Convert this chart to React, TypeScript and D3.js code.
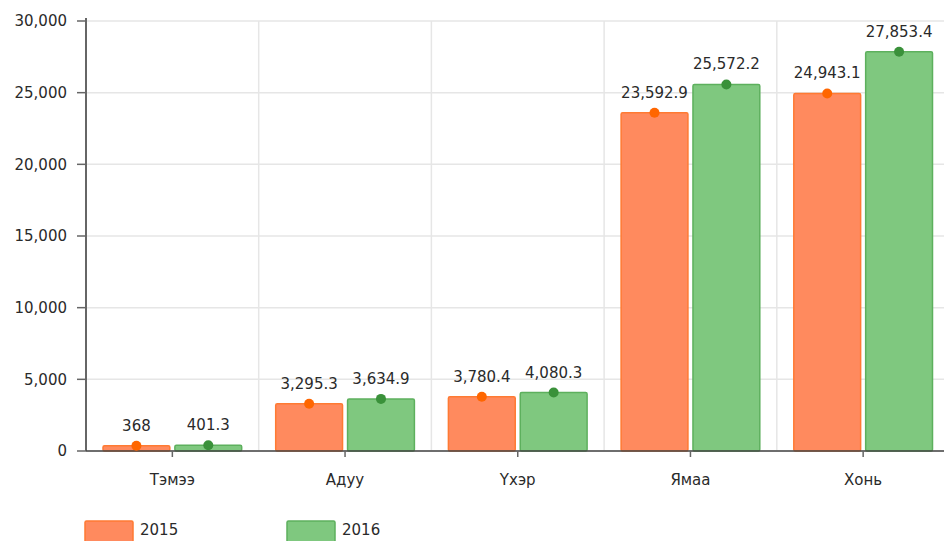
import React from "react";
import * as d3 from "d3";

const categories = ["Тэмээ", "Адуу", "Үхэр", "Ямаа", "Хонь"];
const series = ["2015", "2016"];
const values2015 = [368, 3295.3, 3780.4, 23592.9, 24943.1];
const values2016 = [401.3, 3634.9, 4080.3, 25572.2, 27853.4];
const yTicks = [0, 5000, 10000, 15000, 20000, 25000, 30000];

const W = 944;
const H = 541;
const left = 86;
const top = 21;
const bottom = 451;
const bandW = 172.7;
const right = left + bandW * categories.length;

const colors = [
  { fill: "#FF8A5E", stroke: "#FF7A33", dot: "#FF6600" },
  { fill: "#7FC87F", stroke: "#5DB05D", dot: "#3A913A" },
];

const font = "'DejaVu Sans', Verdana, sans-serif";
const fs = 15;

export default function App() {
  const y = d3.scaleLinear().domain([0, 30000]).range([bottom, top]);
  const x0 = d3.scaleBand<string>().domain(categories).range([left, right]).padding(0);
  const x1 = d3
    .scaleBand<string>()
    .domain(series)
    .range([17, x0.bandwidth() - 17])
    .paddingInner(0.07);
  const fmt = (v: number) => d3.format(",")(v);
  const data = [values2015, values2016];

  return (
    <svg width={W} height={H} style={{ position: "absolute", left: 0, top: 0 }} fontFamily={font}>
      {yTicks.map((t) => (
        <line key={"h" + t} x1={left} x2={W} y1={y(t)} y2={y(t)} stroke="#e6e6e6" strokeWidth={1.5} />
      ))}
      {categories.map((c, i) =>
        i > 0 ? (
          <line key={"v" + c} x1={x0(c)!} x2={x0(c)!} y1={top} y2={bottom} stroke="#e6e6e6" strokeWidth={1.5} />
        ) : null
      )}
      {series.map((s, si) =>
        categories.map((c, ci) => {
          const v = data[si][ci];
          const bx = x0(c)! + x1(s)!;
          const bw = x1.bandwidth();
          return (
            <rect
              key={s + c}
              x={bx}
              y={y(v)}
              width={bw}
              height={bottom - y(v)}
              rx={1.5}
              fill={colors[si].fill}
              stroke={colors[si].stroke}
              strokeWidth={1.5}
            />
          );
        })
      )}
      <line x1={left} x2={left} y1={top - 3} y2={bottom} stroke="#666" strokeWidth={2} />
      <line x1={left} x2={W} y1={bottom} y2={bottom} stroke="#444" strokeWidth={1.5} />
      {yTicks.map((t) => (
        <g key={"yt" + t}>
          <line x1={left - 9} x2={left} y1={y(t)} y2={y(t)} stroke="#666" strokeWidth={1.5} />
          <text x={67} y={y(t)} dy="0.35em" textAnchor="end" fontSize={fs} fill="#2a2a2a">
            {fmt(t)}
          </text>
        </g>
      ))}
      {categories.map((c) => {
        const cx = x0(c)! + x0.bandwidth() / 2;
        return (
          <g key={"xt" + c}>
            <line x1={cx} x2={cx} y1={bottom} y2={bottom + 6} stroke="#666" strokeWidth={1.5} />
            <text x={cx} y={480} dy="0.35em" textAnchor="middle" fontSize={fs} fill="#2a2a2a">
              {c}
            </text>
          </g>
        );
      })}
      {series.map((s, si) =>
        categories.map((c, ci) => {
          const v = data[si][ci];
          const cx = x0(c)! + x1(s)! + x1.bandwidth() / 2;
          return (
            <g key={"d" + s + c}>
              <circle cx={cx} cy={y(v)} r={5} fill={colors[si].dot} />
              <text x={cx} y={y(v) - 15} textAnchor="middle" fontSize={fs} fill="#2a2a2a">
                {fmt(v)}
              </text>
            </g>
          );
        })
      )}
      {series.map((s, si) => {
        const lx = 85 + si * 202;
        return (
          <g key={"lg" + s}>
            <rect x={lx} y={521} width={48} height={30} rx={1.5} fill={colors[si].fill} stroke={colors[si].stroke} strokeWidth={1.5} />
            <text x={lx + 55} y={530} dy="0.35em" fontSize={fs} fill="#2a2a2a">
              {s}
            </text>
          </g>
        );
      })}
    </svg>
  );
}
